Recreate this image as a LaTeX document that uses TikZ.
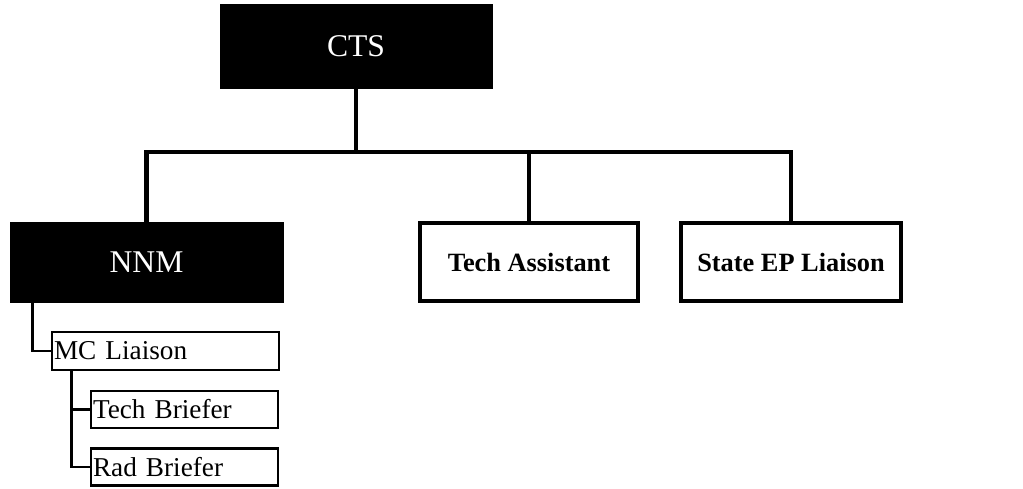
\documentclass[tikz,border=0pt]{standalone}
\usepackage{fontspec}
\setmainfont{Liberation Serif}
\usetikzlibrary{calc}

\begin{document}
\begin{tikzpicture}[x=0.02cm, y=-0.02cm, line join=miter]

    % --- Styles ---
    \tikzset{
        headbox/.style={fill=black, draw=black, text=white, inner sep=0pt,
            font=\fontsize{18}{20}\selectfont},
        unitbox/.style={draw=black, line width=2.3pt, inner sep=0pt,
            minimum height=1.56cm, font=\fontsize{15}{18}\selectfont\bfseries},
        subbox/.style={draw=black, line width=1.2pt, inner xsep=1pt, inner ysep=0pt,
            align=left, font=\fontsize{15.5}{18}\selectfont},
        link/.style={line width=2.3pt},
        sublink/.style={line width=1.5pt}
    }

    % --- Page ---
    \useasboundingbox (0,0) rectangle (1023,488);

    % --- Top ---
    \node[headbox, minimum width=5.44cm, minimum height=1.68cm] (CTS) at (356,46) {CTS};
    \coordinate (bus) at (356,152);

    % --- Second row ---
    \node[headbox, minimum width=5.46cm, minimum height=1.6cm] (NNM) at (146.5,262) {NNM};
    \node[unitbox, minimum width=4.36cm] (TA) at (529,262) {Tech Assistant};
    \node[unitbox, minimum width=4.4cm] (SEP) at (791,262) {State EP Liaison};

    % --- Under NNM ---
    \node[subbox, text width=4.46cm, minimum height=0.76cm] (MC) at (165.5,351) {MC Liaison};
    \node[subbox, text width=3.66cm, minimum height=0.74cm] (TB) at (184.5,409.5) {Tech Briefer};
    \node[subbox, text width=3.66cm, minimum height=0.74cm] (RB) at (184.5,467) {Rad Briefer};

    % --- Connectors ---
    \draw[link] (CTS.south) -- (bus);
    \draw[link] (NNM.north) -- (NNM.north |- bus) -- (SEP.north |- bus) -- (SEP.north);
    \draw[link] (TA.north) -- (TA.north |- bus);
    \draw[sublink] ([xshift=0.46cm]NNM.south west) |- (MC.west);
    \draw[sublink] ([xshift=0.4cm]MC.south west) |- (TB.west);
    \draw[sublink] ([xshift=0.4cm]MC.south west) |- (RB.west);

\end{tikzpicture}
\end{document}
